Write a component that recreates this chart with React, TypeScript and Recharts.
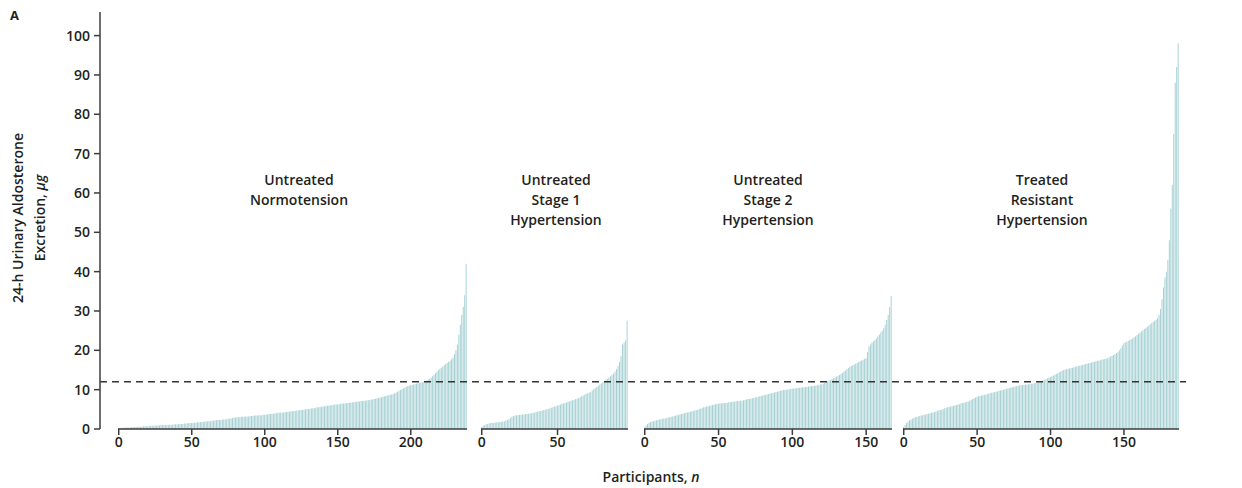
import React from 'react';
import { BarChart, Bar, XAxis, YAxis, ReferenceLine } from 'recharts';

// sorted 24-h urinary aldosterone per participant (µg)
const normotension = [
  0.2, 0.2, 0.3, 0.3, 0.3, 0.4, 0.4, 0.4, 0.4, 0.5,
  0.5, 0.5, 0.5, 0.6, 0.6, 0.6, 0.6, 0.7, 0.7, 0.7,
  0.7, 0.8, 0.8, 0.8, 0.8, 0.9, 0.9, 0.9, 0.9, 1.0,
  1.0, 1.0, 1.0, 1.0, 1.1, 1.1, 1.1, 1.1, 1.2, 1.2,
  1.2, 1.2, 1.3, 1.3, 1.3, 1.4, 1.4, 1.4, 1.5, 1.5,
  1.5, 1.6, 1.6, 1.6, 1.7, 1.7, 1.8, 1.8, 1.8, 1.9,
  1.9, 2.0, 2.0, 2.0, 2.1, 2.1, 2.2, 2.2, 2.3, 2.3,
  2.3, 2.4, 2.4, 2.5, 2.5, 2.6, 2.6, 2.7, 2.8, 2.9,
  2.9, 3.0, 3.0, 3.0, 3.1, 3.1, 3.1, 3.2, 3.2, 3.2,
  3.3, 3.3, 3.3, 3.4, 3.4, 3.4, 3.5, 3.5, 3.5, 3.6,
  3.6, 3.7, 3.7, 3.8, 3.8, 3.9, 3.9, 4.0, 4.0, 4.1,
  4.1, 4.2, 4.2, 4.2, 4.3, 4.3, 4.4, 4.4, 4.5, 4.5,
  4.6, 4.6, 4.7, 4.7, 4.8, 4.8, 4.9, 4.9, 5.0, 5.0,
  5.1, 5.1, 5.2, 5.3, 5.3, 5.4, 5.5, 5.5, 5.6, 5.7,
  5.7, 5.8, 5.9, 5.9, 6.0, 6.0, 6.1, 6.1, 6.2, 6.2,
  6.3, 6.3, 6.4, 6.4, 6.5, 6.5, 6.6, 6.6, 6.7, 6.7,
  6.8, 6.8, 6.9, 6.9, 7.0, 7.0, 7.1, 7.1, 7.2, 7.2,
  7.3, 7.3, 7.4, 7.5, 7.5, 7.6, 7.7, 7.8, 7.9, 8.0,
  8.1, 8.2, 8.3, 8.4, 8.5, 8.6, 8.7, 8.8, 8.9, 9.1,
  9.3, 9.5, 9.7, 9.9, 10.1, 10.3, 10.5, 10.7, 10.9, 11.0,
  11.1, 11.2, 11.3, 11.4, 11.5, 11.6, 11.7, 11.8, 11.9, 12.0,
  12.1, 12.3, 12.5, 12.8, 13.1, 13.4, 13.8, 14.2, 14.6, 15.0,
  15.3, 15.6, 15.9, 16.2, 16.5, 16.8, 17.0, 17.3, 17.7, 18.2,
  19.0, 20.0, 21.5, 24.0, 26.5, 29.0, 31.0, 34.0, 42.0,
];

const stage1 = [
  0.5, 0.8, 1.0, 1.2, 1.3, 1.4, 1.5, 1.5, 1.6, 1.6,
  1.7, 1.7, 1.8, 1.8, 1.9, 2.0, 2.1, 2.3, 2.5, 2.8,
  3.1, 3.3, 3.4, 3.5, 3.5, 3.6, 3.6, 3.7, 3.7, 3.8,
  3.8, 3.9, 4.0, 4.0, 4.1, 4.2, 4.3, 4.4, 4.5, 4.6,
  4.7, 4.8, 4.9, 5.0, 5.1, 5.3, 5.4, 5.5, 5.7, 5.8,
  6.0, 6.1, 6.2, 6.4, 6.5, 6.6, 6.8, 6.9, 7.0, 7.2,
  7.3, 7.4, 7.6, 7.7, 7.9, 8.1, 8.3, 8.5, 8.7, 8.9,
  9.1, 9.3, 9.5, 9.8, 10.1, 10.4, 10.7, 11.0, 11.3, 11.6,
  11.9, 12.2, 12.5, 12.8, 13.1, 13.4, 13.7, 14.1, 14.6, 15.2,
  16.0, 17.0, 18.5, 21.5, 22.0, 22.5, 27.5,
];

const stage2 = [
  0.4, 0.9, 1.3, 1.6, 1.8, 1.9, 2.0, 2.1, 2.2, 2.3,
  2.4, 2.5, 2.6, 2.7, 2.7, 2.8, 2.9, 3.0, 3.1, 3.2,
  3.3, 3.4, 3.5, 3.6, 3.7, 3.8, 3.9, 4.0, 4.1, 4.2,
  4.3, 4.4, 4.5, 4.6, 4.7, 4.8, 4.9, 5.0, 5.2, 5.3,
  5.5, 5.6, 5.7, 5.8, 5.9, 6.0, 6.1, 6.2, 6.3, 6.4,
  6.4, 6.5, 6.5, 6.6, 6.6, 6.7, 6.7, 6.8, 6.8, 6.9,
  6.9, 7.0, 7.0, 7.1, 7.1, 7.2, 7.2, 7.3, 7.4, 7.5,
  7.6, 7.6, 7.7, 7.8, 7.9, 8.0, 8.1, 8.2, 8.3, 8.4,
  8.5, 8.6, 8.7, 8.8, 8.9, 9.0, 9.1, 9.2, 9.3, 9.4,
  9.5, 9.6, 9.7, 9.8, 9.9, 10.0, 10.0, 10.1, 10.1, 10.2,
  10.2, 10.3, 10.3, 10.4, 10.4, 10.5, 10.5, 10.6, 10.6, 10.7,
  10.7, 10.8, 10.8, 10.9, 10.9, 11.0, 11.0, 11.1, 11.2, 11.3,
  11.4, 11.5, 11.7, 11.9, 12.1, 12.3, 12.5, 12.7, 12.9, 13.1,
  13.3, 13.5, 13.7, 14.0, 14.3, 14.6, 14.9, 15.2, 15.5, 15.8,
  16.0, 16.2, 16.4, 16.6, 16.8, 17.0, 17.2, 17.4, 17.6, 17.8,
  18.0, 19.5, 21.0, 21.5, 22.0, 22.3, 22.6, 23.0, 23.5, 24.0,
  24.5, 25.0, 25.6, 26.5, 27.7, 29.0, 31.0, 33.8,
];

const resistant = [
  0.5, 1.0, 1.5, 1.9, 2.2, 2.4, 2.6, 2.8, 3.0, 3.1,
  3.2, 3.3, 3.4, 3.5, 3.6, 3.7, 3.8, 3.9, 4.0, 4.1,
  4.2, 4.3, 4.4, 4.6, 4.7, 4.8, 4.9, 5.1, 5.3, 5.4,
  5.5, 5.6, 5.7, 5.8, 5.9, 6.0, 6.1, 6.2, 6.3, 6.5,
  6.6, 6.7, 6.8, 6.9, 7.0, 7.2, 7.4, 7.6, 7.8, 8.0,
  8.2, 8.3, 8.4, 8.5, 8.6, 8.7, 8.8, 8.9, 9.0, 9.1,
  9.2, 9.3, 9.4, 9.5, 9.6, 9.7, 9.8, 9.9, 10.0, 10.1,
  10.2, 10.3, 10.4, 10.5, 10.6, 10.7, 10.8, 10.9, 11.0, 11.1,
  11.1, 11.2, 11.2, 11.3, 11.3, 11.4, 11.4, 11.5, 11.5, 11.6,
  11.7, 11.8, 11.9, 12.0, 12.1, 12.3, 12.5, 12.7, 12.9, 13.1,
  13.2, 13.4, 13.6, 13.8, 14.0, 14.2, 14.4, 14.6, 14.8, 15.0,
  15.1, 15.2, 15.3, 15.4, 15.5, 15.6, 15.7, 15.8, 15.9, 16.0,
  16.1, 16.2, 16.3, 16.4, 16.5, 16.6, 16.7, 16.8, 16.9, 17.0,
  17.1, 17.2, 17.3, 17.4, 17.5, 17.6, 17.7, 17.8, 17.9, 18.0,
  18.2, 18.4, 18.6, 18.8, 19.0, 19.3, 19.6, 20.0, 20.5, 21.2,
  21.8, 22.0, 22.2, 22.4, 22.6, 22.8, 23.0, 23.3, 23.6, 23.9,
  24.2, 24.5, 24.8, 25.1, 25.4, 25.7, 26.0, 26.3, 26.6, 26.9,
  27.2, 27.5, 27.8, 28.2, 29.0, 30.5, 33.0, 36.0, 38.5, 40.0,
  43.0, 48.0, 56.0, 62.0, 75.0, 88.0, 92.0, 98.0,
];

const groupTitles = [
  ['Untreated', 'Normotension'],
  ['Untreated', 'Stage 1', 'Hypertension'],
  ['Untreated', 'Stage 2', 'Hypertension'],
  ['Treated', 'Resistant', 'Hypertension'],
];
const xTicks = [
  [0, 50, 100, 150, 200],
  [0, 50],
  [0, 50, 100, 150],
  [0, 50, 100, 150],
];
const yTicks = [0, 10, 20, 30, 40, 50, 60, 70, 80, 90, 100];
const threshold = 12;

const groups = [normotension, stage1, stage2, resistant];

// layout (px)
const W = 1242;
const H = 488;
const TOP = 12;
const AXIS_Y = 429;
const Y_MAX = 106;
const panelLeft = [118, 481, 644, 903];
const panelWidth = [349, 147, 248, 276];
const titleCenter = [299, 556, 768, 1042];
const PAD = 12;

const FONT = "'Open Sans', 'Noto Sans', sans-serif";
const INK = '#231f20';
const AXIS = '#3c3c3c';
const BAR = '#a7d1d4';

const tickStyle = { fontSize: 14, fontWeight: 600, fill: INK, fontFamily: FONT };

export default function App() {
  return (
    <div style={{ position: 'absolute', left: 0, top: 0, width: W, height: H, background: '#fff', fontFamily: FONT, color: INK }}>
      <div style={{ position: 'absolute', left: 10, top: 6, fontSize: 13, fontWeight: 700 }}>A</div>

      {/* y axis title */}
      <div
        style={{
          position: 'absolute',
          left: 29 - 160,
          top: 218 - 22,
          width: 320,
          height: 44,
          lineHeight: '22px',
          fontSize: 14,
          fontWeight: 600,
          textAlign: 'center',
          transform: 'rotate(-90deg)',
          whiteSpace: 'nowrap',
        }}
      >
        <div>24-h Urinary Aldosterone</div>
        <div>
          Excretion, <i>µg</i>
        </div>
      </div>

      {groups.map((values, g) => {
        const data = values.map((v, i) => ({ n: i, v }));
        return (
          <div key={g} style={{ position: 'absolute', left: panelLeft[g] - PAD, top: 0 }}>
            <BarChart
              width={panelWidth[g] + PAD * 2}
              height={H}
              data={data}
              margin={{ top: TOP, right: PAD, bottom: H - AXIS_Y - 30, left: PAD }}
              barCategoryGap="8%"
              barGap={0}
            >
              <XAxis
                dataKey="n"
                ticks={xTicks[g]}
                interval={0}
                height={30}
                tickSize={6}
                tickMargin={2}
                axisLine={{ stroke: AXIS, strokeWidth: 1.5 }}
                tickLine={{ stroke: AXIS, strokeWidth: 1.5 }}
                tick={tickStyle}
              />
              <YAxis hide domain={[0, Y_MAX]} allowDataOverflow />
              <Bar dataKey="v" fill={BAR} isAnimationActive={false} />
            </BarChart>
          </div>
        );
      })}

      {groupTitles.map((lines, g) => (
        <div
          key={g}
          style={{
            position: 'absolute',
            left: titleCenter[g] - 100,
            top: 170,
            width: 200,
            textAlign: 'center',
            fontSize: 14,
            fontWeight: 600,
            lineHeight: '20px',
          }}
        >
          {lines.map((l) => (
            <div key={l}>{l}</div>
          ))}
        </div>
      ))}

      {/* shared y axis + threshold line, drawn on top of the panels */}
      <div style={{ position: 'absolute', left: 0, top: 0, pointerEvents: 'none' }}>
        <BarChart
          width={W}
          height={H}
          data={yTicks.map((t) => ({ t }))}
          margin={{ top: TOP, right: 56, bottom: H - AXIS_Y, left: 0 }}
        >
          <XAxis dataKey="t" hide />
          <YAxis
            domain={[0, Y_MAX]}
            ticks={yTicks}
            interval={0}
            width={100}
            tickSize={6}
            tickMargin={4}
            allowDataOverflow
            axisLine={{ stroke: AXIS, strokeWidth: 1.5 }}
            tickLine={{ stroke: AXIS, strokeWidth: 1.5 }}
            tick={tickStyle}
          />
          <ReferenceLine y={threshold} stroke="#333" strokeWidth={1.5} strokeDasharray="7 5" />
        </BarChart>
      </div>

      <div
        style={{
          position: 'absolute',
          left: 551,
          top: 467,
          width: 200,
          textAlign: 'center',
          fontSize: 14,
          fontWeight: 600,
        }}
      >
        Participants, <i>n</i>
      </div>
    </div>
  );
}
